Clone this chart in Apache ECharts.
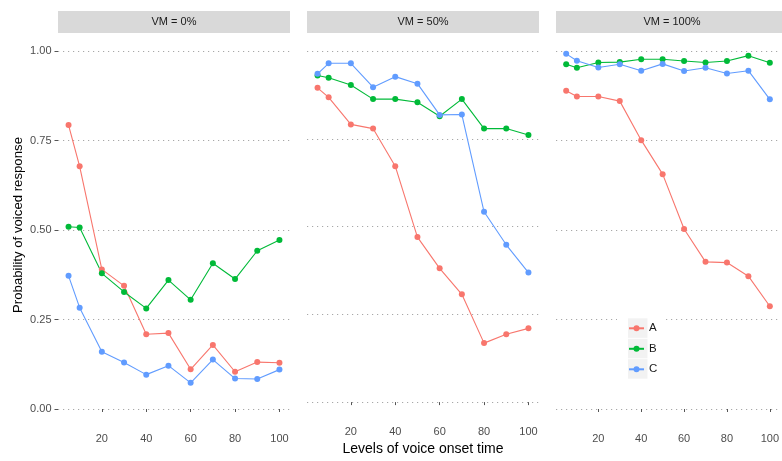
<!DOCTYPE html>
<html>
<head>
<meta charset="utf-8">
<script src="https://cdn.jsdelivr.net/npm/echarts@6/dist/echarts.min.js"></script>
<style>
html,body{margin:0;padding:0;background:#fff;}
#chart{width:782px;height:461px;}
</style>
</head>
<body>
<div id="chart"></div>
<script>
// ---- data ----
const xValues = [5, 10, 20, 30, 40, 50, 60, 70, 80, 90, 100];
const xTicks = [20, 40, 60, 80, 100];
const yTicks = [0, 0.25, 0.5, 0.75, 1];
const panelTitles = ['VM = 0%', 'VM = 50%', 'VM = 100%'];
const groups = ['A', 'B', 'C'];
const xTitle = 'Levels of voice onset time';
const yTitle = 'Probability of voiced response';

const vm0_A = [0.793, 0.678, 0.390, 0.344, 0.209, 0.212, 0.111, 0.179, 0.104, 0.131, 0.129];
const vm0_B = [0.509, 0.507, 0.379, 0.327, 0.281, 0.360, 0.305, 0.407, 0.363, 0.442, 0.472];
const vm0_C = [0.372, 0.283, 0.160, 0.130, 0.096, 0.121, 0.073, 0.138, 0.085, 0.084, 0.110];

const vm50_A = [0.895, 0.868, 0.791, 0.779, 0.672, 0.470, 0.381, 0.307, 0.168, 0.193, 0.210];
const vm50_B = [0.930, 0.924, 0.903, 0.863, 0.863, 0.854, 0.814, 0.863, 0.779, 0.779, 0.761];
const vm50_C = [0.935, 0.965, 0.965, 0.897, 0.927, 0.907, 0.818, 0.819, 0.542, 0.448, 0.369];

const vm100_A = [0.889, 0.873, 0.873, 0.860, 0.751, 0.656, 0.503, 0.411, 0.409, 0.371, 0.287];
const vm100_B = [0.963, 0.953, 0.968, 0.969, 0.977, 0.977, 0.972, 0.968, 0.972, 0.987, 0.967];
const vm100_C = [0.992, 0.973, 0.954, 0.963, 0.945, 0.964, 0.944, 0.953, 0.937, 0.945, 0.865];

const panelData = [
  [vm0_A, vm0_B, vm0_C],
  [vm50_A, vm50_B, vm50_C],
  [vm100_A, vm100_B, vm100_C]
];

// ---- styling ----
const colors = ['#F8766D', '#00BA38', '#619CFF'];
const panelLefts = [58, 307, 556];
const panelW = 232;
const gridTop = 51, gridH = 358;
const font = 'Liberation Sans, Arial, sans-serif';

const grids = [], xAxes = [], yAxes = [], series = [], graphics = [];

panelLefts.forEach((left, p) => {
  grids.push({left: left, top: gridTop, width: panelW, height: gridH, containLabel: false});
  xAxes.push({
    type: 'value', gridIndex: p, min: 0.25, max: 104.75,
    offset: 18,
    axisLine: {show: false},
    axisTick: {show: true, length: 3, customValues: xTicks, lineStyle: {color: '#555', width: 1}},
    axisLabel: {show: true, customValues: xTicks, margin: 6, color: '#4d4d4d', fontSize: 11, fontFamily: font},
    splitLine: {show: false},
    name: p === 1 ? xTitle : '',
    nameLocation: 'middle', nameGap: 19,
    nameTextStyle: {color: '#000', fontSize: 14, fontFamily: font}
  });
  yAxes.push({
    type: 'value', gridIndex: p, min: 0, max: 1, interval: 0.25,
    axisLine: {show: false},
    axisTick: {show: p === 0, length: 3.5, lineStyle: {color: '#555', width: 1}},
    axisLabel: {show: p === 0, margin: 6.5, color: '#4d4d4d', fontSize: 11, fontFamily: font,
      formatter: v => v.toFixed(2)},
    splitLine: {show: true, lineStyle: {color: '#a8a8a8', width: 1.2, type: [1.2, 3.8]}}
  });
  groups.forEach((g, k) => {
    series.push({
      type: 'line', name: g, xAxisIndex: p, yAxisIndex: p,
      data: xValues.map((x, i) => [x, panelData[p][k][i]]),
      symbol: 'circle', symbolSize: 6, showSymbol: true,
      color: colors[k],
      lineStyle: {width: 1.1, color: colors[k]},
      itemStyle: {color: colors[k]},
      emphasis: {disabled: true},
      clip: false, animation: false
    });
  });
  // strip
  graphics.push({
    type: 'rect', shape: {x: left, y: 11, width: panelW, height: 22},
    style: {fill: '#d9d9d9'}, silent: true, z: 1
  });
  graphics.push({
    type: 'text', x: left + panelW / 2, y: 22,
    style: {text: panelTitles[p], fill: '#1a1a1a', font: '11px ' + font, align: 'center', verticalAlign: 'middle'},
    silent: true, z: 2
  });
});

// y axis title
graphics.push({
  type: 'text', x: 18, y: 225, rotation: Math.PI / 2,
  style: {text: yTitle, fill: '#000', font: '13.2px ' + font, align: 'center', verticalAlign: 'middle'},
  silent: true, z: 2
});

// legend background and key boxes
graphics.push({type: 'rect', shape: {x: 617, y: 311, width: 46, height: 74}, style: {fill: '#ffffff'}, z: 1, silent: true});
[318.3, 338.8, 359.2].forEach(y => {
  graphics.push({type: 'rect', shape: {x: 628, y: y, width: 19.5, height: 19.5}, style: {fill: '#f2f2f2'}, z: 2, silent: true});
});

const chart = echarts.init(document.getElementById('chart'), null, {renderer: 'canvas'});
chart.setOption({
  animation: false,
  backgroundColor: '#ffffff',
  grid: grids,
  xAxis: xAxes,
  yAxis: yAxes,
  series: series,
  graphic: graphics,
  legend: {
    data: groups,
    orient: 'vertical',
    left: 628, top: 318.3,
    padding: 0,
    itemWidth: 15, itemHeight: 7.5, itemGap: 0.5,
    lineStyle: {width: 2},
    textStyle: {color: '#1a1a1a', fontSize: 11.5, fontFamily: font, lineHeight: 20},
    selectedMode: false,
    z: 5
  }
});
</script>
</body>
</html>
